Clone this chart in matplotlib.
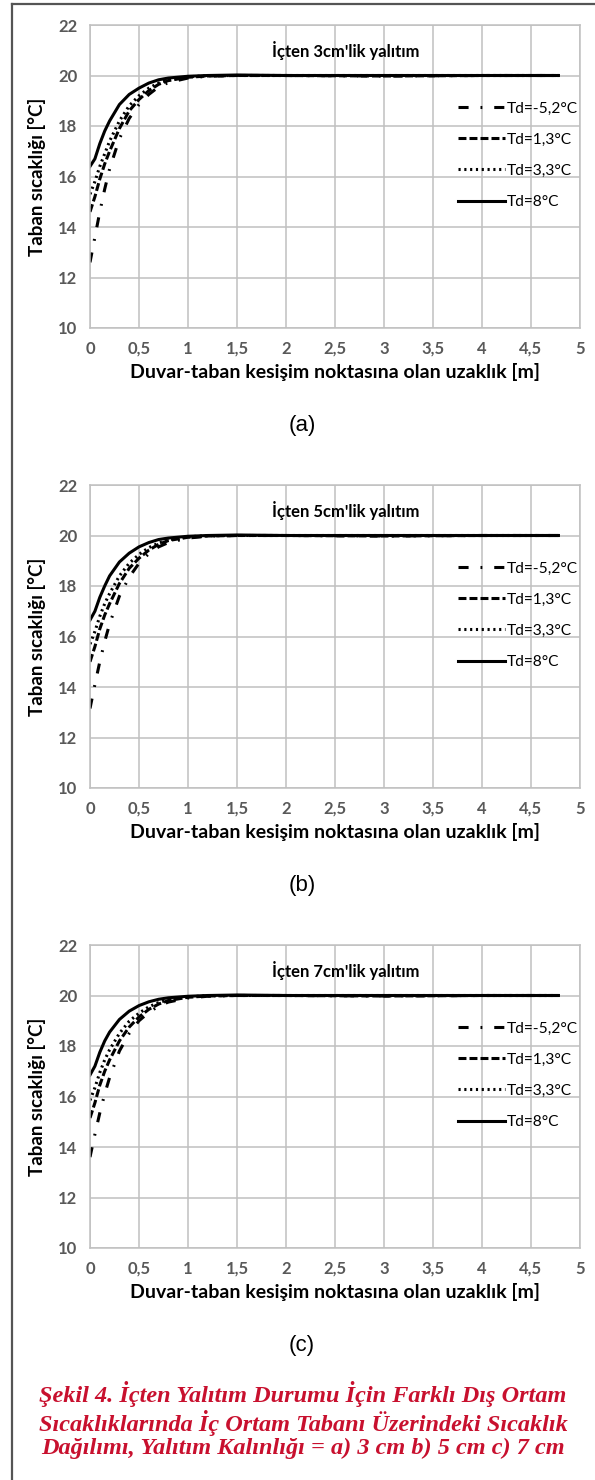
import matplotlib
matplotlib.use("Agg")
import matplotlib.pyplot as plt
from matplotlib.lines import Line2D

plt.rcParams['font.family'] = ['Lato', 'DejaVu Sans']

# distance from wall-floor junction [m]
x = [0, 0.05, 0.1, 0.15, 0.2, 0.3, 0.4, 0.5, 0.6, 0.7, 0.8, 1.0, 1.2, 1.5, 2.0, 3.0, 4.0, 4.78]

# (a) 3 cm insulation
a_m52 = [12.6, 13.6, 14.6, 15.5, 16.3, 17.5, 18.3, 18.85, 19.25, 19.55, 19.72, 19.9, 19.97, 20.0, 20.0, 19.98, 20.0, 20.0]
a_13 = [14.6, 15.2, 15.9, 16.5, 17.0, 17.9, 18.6, 19.05, 19.4, 19.65, 19.8, 19.93, 19.98, 20.0, 20.0, 19.98, 20.0, 20.0]
a_33 = [15.3, 15.8, 16.4, 16.9, 17.4, 18.2, 18.8, 19.2, 19.5, 19.7, 19.82, 19.95, 19.99, 20.0, 20.0, 20.0, 20.0, 20.0]
a_8 = [16.4, 16.7, 17.3, 17.8, 18.2, 18.85, 19.25, 19.5, 19.7, 19.83, 19.9, 19.97, 20.0, 20.02, 20.0, 20.0, 20.0, 20.0]

# (b) 5 cm insulation
b_m52 = [13.15, 14.1, 15.0, 15.8, 16.5, 17.6, 18.35, 18.9, 19.28, 19.55, 19.72, 19.9, 19.97, 20.0, 20.0, 19.98, 20.0, 20.0]
b_13 = [15.0, 15.6, 16.3, 16.85, 17.3, 18.1, 18.7, 19.1, 19.42, 19.65, 19.8, 19.93, 19.98, 20.0, 20.0, 19.98, 20.0, 20.0]
b_33 = [15.7, 16.2, 16.8, 17.3, 17.7, 18.4, 18.9, 19.25, 19.52, 19.7, 19.82, 19.95, 19.99, 20.0, 20.0, 20.0, 20.0, 20.0]
b_8 = [16.65, 17.0, 17.55, 18.0, 18.4, 18.95, 19.3, 19.55, 19.72, 19.84, 19.9, 19.97, 20.0, 20.02, 20.0, 20.0, 20.0, 20.0]

# (c) 7 cm insulation
c_m52 = [13.6, 14.5, 15.35, 16.1, 16.75, 17.8, 18.5, 19.0, 19.33, 19.58, 19.74, 19.9, 19.97, 20.0, 20.0, 19.98, 20.0, 20.0]
c_13 = [15.15, 15.75, 16.45, 17.0, 17.45, 18.2, 18.75, 19.15, 19.45, 19.66, 19.8, 19.93, 19.98, 20.0, 20.0, 19.98, 20.0, 20.0]
c_33 = [15.85, 16.35, 16.95, 17.45, 17.85, 18.5, 18.98, 19.3, 19.55, 19.72, 19.83, 19.95, 19.99, 20.0, 20.0, 20.0, 20.0, 20.0]
c_8 = [16.85, 17.2, 17.75, 18.2, 18.55, 19.05, 19.38, 19.6, 19.75, 19.85, 19.91, 19.97, 20.0, 20.02, 20.0, 20.0, 20.0, 20.0]

labels = ['Td=-5,2°C', 'Td=1,3°C', 'Td=3,3°C', 'Td=8°C']
titles = ["İçten 3cm'lik yalıtım", "İçten 5cm'lik yalıtım", "İçten 7cm'lik yalıtım"]
panel_tags = ['(a)', '(b)', '(c)']
xticks = [0, 0.5, 1, 1.5, 2, 2.5, 3, 3.5, 4, 4.5, 5]
xtick_labels = ['0', '0,5', '1', '1,5', '2', '2,5', '3', '3,5', '4', '4,5', '5']
yticks = [10, 12, 14, 16, 18, 20, 22]

panels = [
    [a_m52, a_13, a_33, a_8],
    [b_m52, b_13, b_33, b_8],
    [c_m52, c_13, c_33, c_8],
]

dash_styles = [(3.3, 3.9, 0.6, 3.9), (2.6, 1.0), (0.7, 1.2), None]

W, H = 595, 1480
fig = plt.figure(figsize=(W / 100, H / 100), dpi=100)

# outer frame (only top and left visible)
fig.add_artist(Line2D([12 / W, 12 / W], [0, 1 - 4 / H], color='#555555', lw=1.6))
fig.add_artist(Line2D([12 / W, 1], [1 - 4 / H, 1 - 4 / H], color='#555555', lw=1.6))

grid_c = '#c0c0c0'
tops = [25, 485, 945]
for i, top in enumerate(tops):
    ax = fig.add_axes([90 / W, 1 - (top + 303) / H, 490 / W, 303 / H])
    for ys, lab, ds in zip(panels[i], labels, dash_styles):
        line, = ax.plot(x, ys, color='black', lw=2.2, label=lab)
        if ds is not None:
            line.set_dashes(ds)
    ax.set_xlim(0, 5)
    ax.set_ylim(10, 22)
    ax.set_xticks(xticks)
    ax.set_xticklabels(xtick_labels, fontsize=12, fontweight='bold')
    ax.set_yticks(yticks)
    ax.set_yticklabels([str(v) for v in yticks], fontsize=12, fontweight='bold')
    ax.grid(True, color=grid_c, lw=1.1)
    ax.set_axisbelow(True)
    for sp in ax.spines.values():
        sp.set_color(grid_c)
        sp.set_linewidth(1.1)
    ax.tick_params(length=0, labelcolor='#595959', pad=9)
    ax.set_xlabel('Duvar-taban kesişim noktasına olan uzaklık [m]', fontsize=14,
                  fontweight='bold', labelpad=5)
    ax.set_ylabel('Taban sıcaklığı [°C]', fontsize=13.5, fontweight='bold', labelpad=9)
    ax.text(2.61, 21.0, titles[i], fontsize=12, fontweight='bold', ha='center', va='center')
    ax.legend(loc='upper left', bbox_to_anchor=(0.751, 0.747), frameon=False, fontsize=11.2,
              handlelength=3.0, handletextpad=0.12, labelspacing=1.1, borderpad=0,
              borderaxespad=0)
    fig.text(302 / W, 1 - (top + 400) / H, panel_tags[i], fontsize=16,
             family='Liberation Sans', ha='center', va='center')

caption = ("Şekil 4. İçten Yalıtım Durumu İçin Farklı Dış Ortam\n"
           "Sıcaklıklarında İç Ortam Tabanı Üzerindeki Sıcaklık\n"
           "Dağılımı, Yalıtım Kalınlığı = a) 3 cm b) 5 cm c) 7 cm")
fig.text(303 / W, 1 - 1420 / H, caption, fontsize=17.5, family='Liberation Serif',
         fontweight='bold', style='italic', color='#c8102e', ha='center', va='center',
         linespacing=1.12)

fig.savefig('out.png', dpi=100)
